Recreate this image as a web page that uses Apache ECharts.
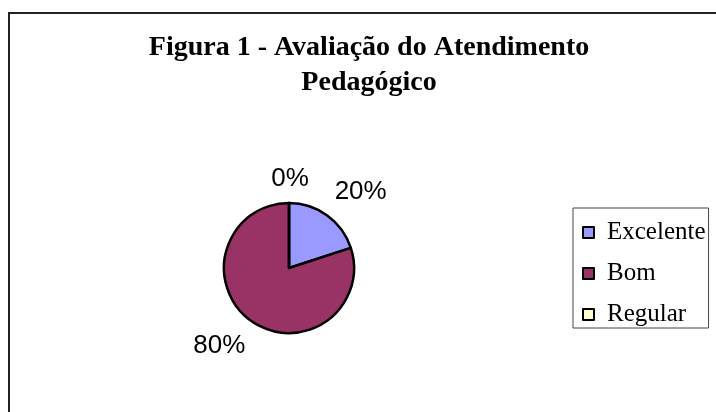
<!DOCTYPE html>
<html>
<head>
<meta charset="utf-8">
<script src="https://cdn.jsdelivr.net/npm/echarts@6/dist/echarts.min.js"></script>
<style>
  html, body { margin: 0; padding: 0; background: #fff; }
  #chart { width: 716px; height: 412px; }
</style>
</head>
<body>
<div id="chart"></div>
<script>
// dados do gráfico
const categorias = ['Excelente', 'Bom', 'Regular']
const valores = [20, 80, 0]
const cores = ['#9999ff', '#993366', '#ffffcc']

// ajuste fino dos rótulos (estilo Excel)
const deslocRotulo = [[17, -1], [-15, 3], [1, 4]]

const chart = echarts.init(document.getElementById('chart'))

const option = {
  animation: false,
  backgroundColor: '#fff',
  title: {
    text: 'Figura 1 - Avaliação do Atendimento\nPedagógico',
    left: 369,
    top: 30,
    textAlign: 'center',
    padding: 0,
    textStyle: {
      fontFamily: 'Liberation Serif',
      fontWeight: 'bold',
      fontSize: 28,
      lineHeight: 35,
      color: '#000'
    }
  },
  graphic: [
    {
      type: 'rect',
      shape: { x: 9, y: 13, width: 800, height: 500 },
      style: { fill: 'none', stroke: '#222', lineWidth: 2 },
      silent: true
    }
  ],
  legend: {
    orient: 'vertical',
    left: 573,
    top: 208,
    data: categorias,
    icon: 'rect',
    itemWidth: 11,
    itemHeight: 11,
    itemGap: 16,
    padding: [12, 3, 1, 9],
    borderColor: '#444',
    borderWidth: 1,
    itemStyle: { borderColor: '#000', borderWidth: 2 },
    textStyle: {
      fontFamily: 'Liberation Serif',
      fontSize: 25,
      lineHeight: 25,
      color: '#000',
      padding: [0, 0, 0, 8]
    }
  },
  series: [
    {
      type: 'pie',
      center: [289, 268],
      radius: 65,
      startAngle: 90,
      clockwise: true,
      avoidLabelOverlap: false,
      percentPrecision: 0,
      itemStyle: { borderColor: '#000', borderWidth: 2.5 },
      emphasis: { disabled: true },
      label: {
        show: true,
        position: 'outside',
        formatter: '{d}%',
        fontFamily: 'Liberation Sans',
        fontSize: 26,
        color: '#000',
        distanceToLabelLine: 0
      },
      labelLine: { show: false, length: 28, length2: 0 },
      labelLayout: function (params) {
        const d = deslocRotulo[params.dataIndex]
        return { align: 'center', dx: d[0], dy: d[1] }
      },
      data: categorias.map((nome, i) => ({
        name: nome,
        value: valores[i],
        itemStyle: { color: cores[i] }
      }))
    }
  ]
}

chart.setOption(option)
</script>
</body>
</html>
